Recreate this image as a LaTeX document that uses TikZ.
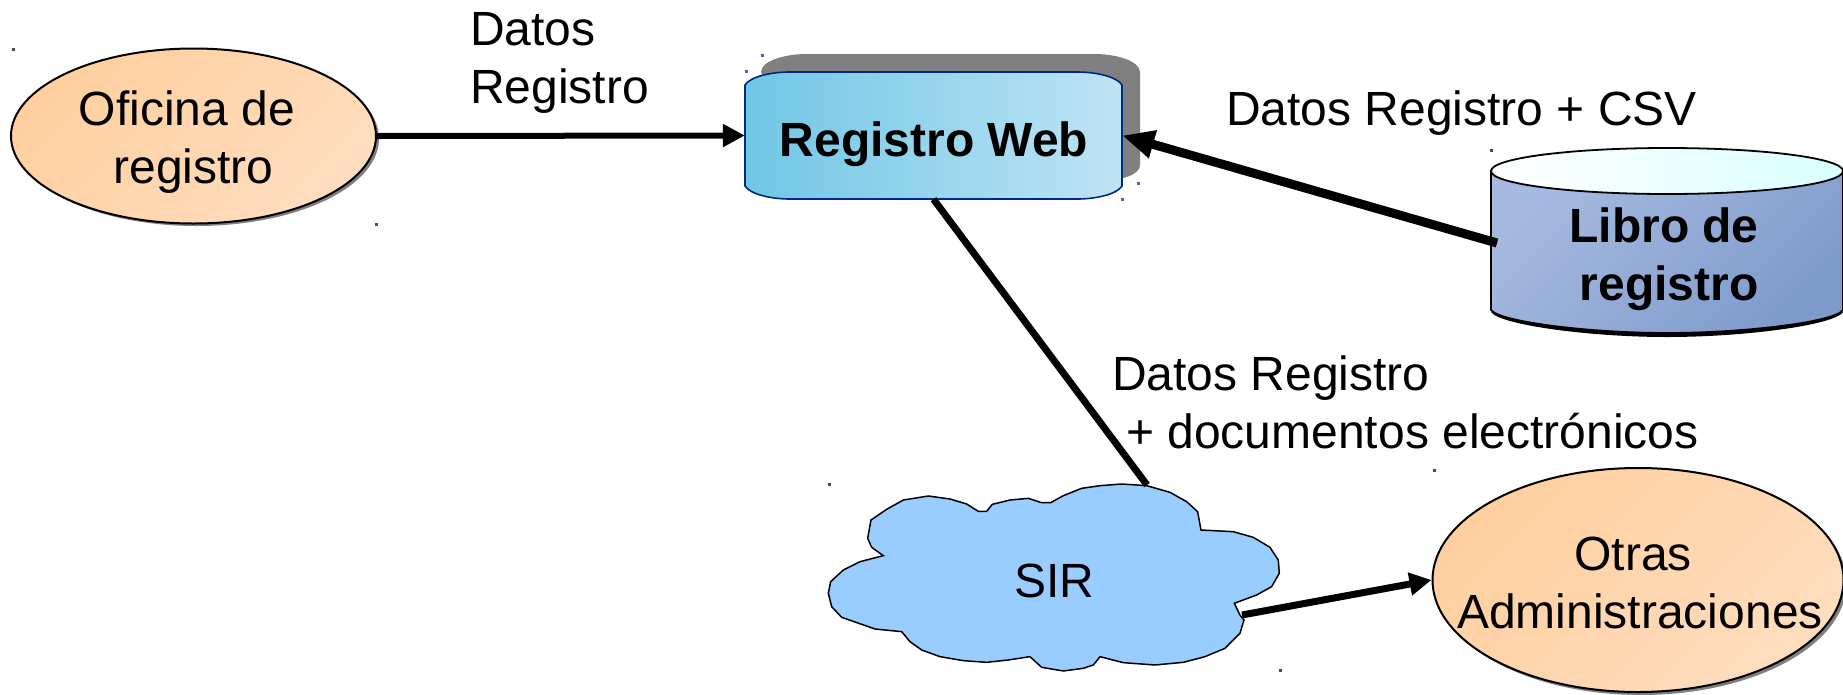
\documentclass[tikz,border=0pt]{standalone}
\usepackage{fontspec}
\setmainfont{Liberation Sans}
\usetikzlibrary{arrows.meta,shapes.geometric}
\definecolor{lineblue}{HTML}{00297F}
\definecolor{orangeL}{HTML}{FFCF9F}
\definecolor{orangeR}{HTML}{FFDDBE}
\definecolor{webL}{HTML}{70C6E6}
\definecolor{webR}{HTML}{BFE4F3}
\definecolor{cylL}{HTML}{A6BADF}
\definecolor{cylR}{HTML}{7F9BCC}
\definecolor{cloudfill}{HTML}{99CCFF}
\tikzset{
  txt/.style={font=\fontsize{48}{57.5}\selectfont,inner sep=0pt,align=left,anchor=base west},
  ctxt/.style={font=\fontsize{48}{57.5}\selectfont,inner sep=0pt,align=center,anchor=base},
  btxt/.style={font=\fontsize{48}{57.5}\selectfont\bfseries,inner sep=0pt,align=center,anchor=base},
  oval/.style={ellipse,draw=black,line width=2pt,inner sep=0pt,left color=orangeL,right color=orangeR,shading angle=45},
  ovalshadow/.style={ellipse,fill=gray,inner sep=0pt},
  conn/.style={draw=black,line width=#1},
  speck/.style={fill=#1,draw=none},
  anchorbox/.style={inner sep=0pt,draw=none,fill=none}
}
\begin{document}
\begin{tikzpicture}[x=1pt,y=-1pt]
\useasboundingbox (0,0) rectangle (1843,694);
\clip (0,0) rectangle (1843,694);
% Oficina
\node[ovalshadow,minimum width=365pt,minimum height=175pt] at (196.5,138.5) {};
\node[oval,minimum width=365pt,minimum height=175pt] (oficina) at (193.5,136) {};
% Otras
\node[ovalshadow,minimum width=411pt,minimum height=224pt] at (1641,583) {};
\node[oval,minimum width=411pt,minimum height=224pt] (otras) at (1638,580) {};
% Registro Web
\fill[black!50] (761,72) .. controls (761,61) and (785,54) .. (806,54) -- (1095,54) .. controls (1116,54) and (1140,61) .. (1140,72) -- (1140,165) .. controls (1140,174) and (1124,181) .. (1095,181) -- (806,181) -- cycle;
\draw[draw=lineblue,line width=1.6pt,left color=webL,right color=webR]
  (745,85) .. controls (750,77) and (770,72) .. (790,72) -- (1077,72) .. controls (1097,72) and (1117,77) .. (1122,85)
  -- (1122,186) .. controls (1117,194) and (1097,199) .. (1077,199) -- (790,199) .. controls (770,199) and (750,194) .. (745,186) -- cycle;
\node[anchorbox,minimum width=377pt,minimum height=127pt] (web) at (933.5,135.5) {};
% Libro de registro
\fill[black] (1491,312) .. controls (1500,325) and (1590,337) .. (1667,337) .. controls (1745,337) and (1835,325) .. (1843,312) -- cycle;
\draw[draw=black,line width=1.8pt,left color=cylL,right color=cylR,shading angle=45]
  (1491,171) -- (1491,310) .. controls (1500,322) and (1590,333) .. (1667,333) .. controls (1745,333) and (1835,322) .. (1843,310) -- (1843,171) -- cycle;
\draw[draw=black,line width=1.8pt,left color=white,right color=white!85!cyan]
  (1667,171) ellipse [x radius=176,y radius=23];
\node[anchorbox,minimum width=352pt,minimum height=185pt] (libro) at (1667,240.5) {};
% Cloud
\draw[draw=black,line width=1.5pt,fill=cloudfill,shift={(800,460)},x=0.3333pt,y=-0.3333pt]
 (85,400) -- (92,365) -- (130,330) -- (180,305) -- (250,287) -- (215,262) -- (203,235) -- (213,180) -- (260,148) -- (310,120) -- (385,108) -- (450,117) -- (500,132) -- (535,154) -- (560,154) -- (577,133) -- (630,120) -- (685,115) -- (725,128) -- (752,128) -- (790,107) -- (845,85) -- (900,77) -- (965,72) -- (1040,77) -- (1110,97) -- (1160,125) -- (1193,155) -- (1203,210) -- (1300,215) -- (1360,232) -- (1410,262) -- (1435,300) -- (1438,340) -- (1415,380) -- (1370,405) -- (1303,430) -- (1320,465) -- (1332,480) -- (1320,520) -- (1275,565) -- (1215,590) -- (1150,607) -- (1065,615) -- (970,608) -- (900,590) -- (880,615) -- (850,625) -- (790,633) -- (725,622) -- (690,590) -- (625,600) -- (560,607) -- (490,602) -- (420,590) -- (365,570) -- (330,545) -- (305,515) -- (225,507) -- (125,472) -- (95,440) -- cycle;
\coordinate (sirtop) at (1147,485);
\coordinate (sirright) at (1242,615);
\coordinate (librotap) at (1497,243);
% Connectors
\draw[conn=6pt,-{Triangle[length=22pt,width=22pt]}] (oficina.east) -- (web.west);
\draw[conn=9pt,-{Triangle[length=32pt,width=27pt]}] (librotap) -- (web.east);
\draw[conn=7pt] (web.south) -- (sirtop);
\draw[conn=7pt,-{Triangle[length=22pt,width=22pt]}] (sirright) -- (otras.west);
% Texts
\node[ctxt] (tofi) at (187,183) {Oficina de\\\hspace*{13pt}registro};
\node[btxt] (tweb) at (934,156) {Registro Web};
\node[btxt] (tlib) at (1664,300) {Libro de\\\hspace*{10pt}registro};
\node[ctxt] (tsir) at (1054,597) {SIR};
\node[ctxt] (totr) at (1640,628) {Otras\hspace*{14pt}\\Administraciones};
\node[txt] (l1) at (470,103) {Datos\\Registro};
\node[txt] (l2) at (1226,125) {Datos Registro + CSV};
\node[txt] (l3) at (1112,448) {Datos Registro\\\hspace*{14pt}+ documentos electrónicos};
% Specks
\foreach \p in {(13,49),(376,224),(1491,150),(829,484),(1434,470),(1280,670)}
  \fill[speck=black!70] \p +(-1.5,-1.5) rectangle +(1.5,1.5);
\foreach \p in {(762,55),(746,71),(1138,183),(1122,199)}
  \fill[speck=lineblue!70] \p +(-1.5,-1.5) rectangle +(1.5,1.5);
\end{tikzpicture}
\end{document}
